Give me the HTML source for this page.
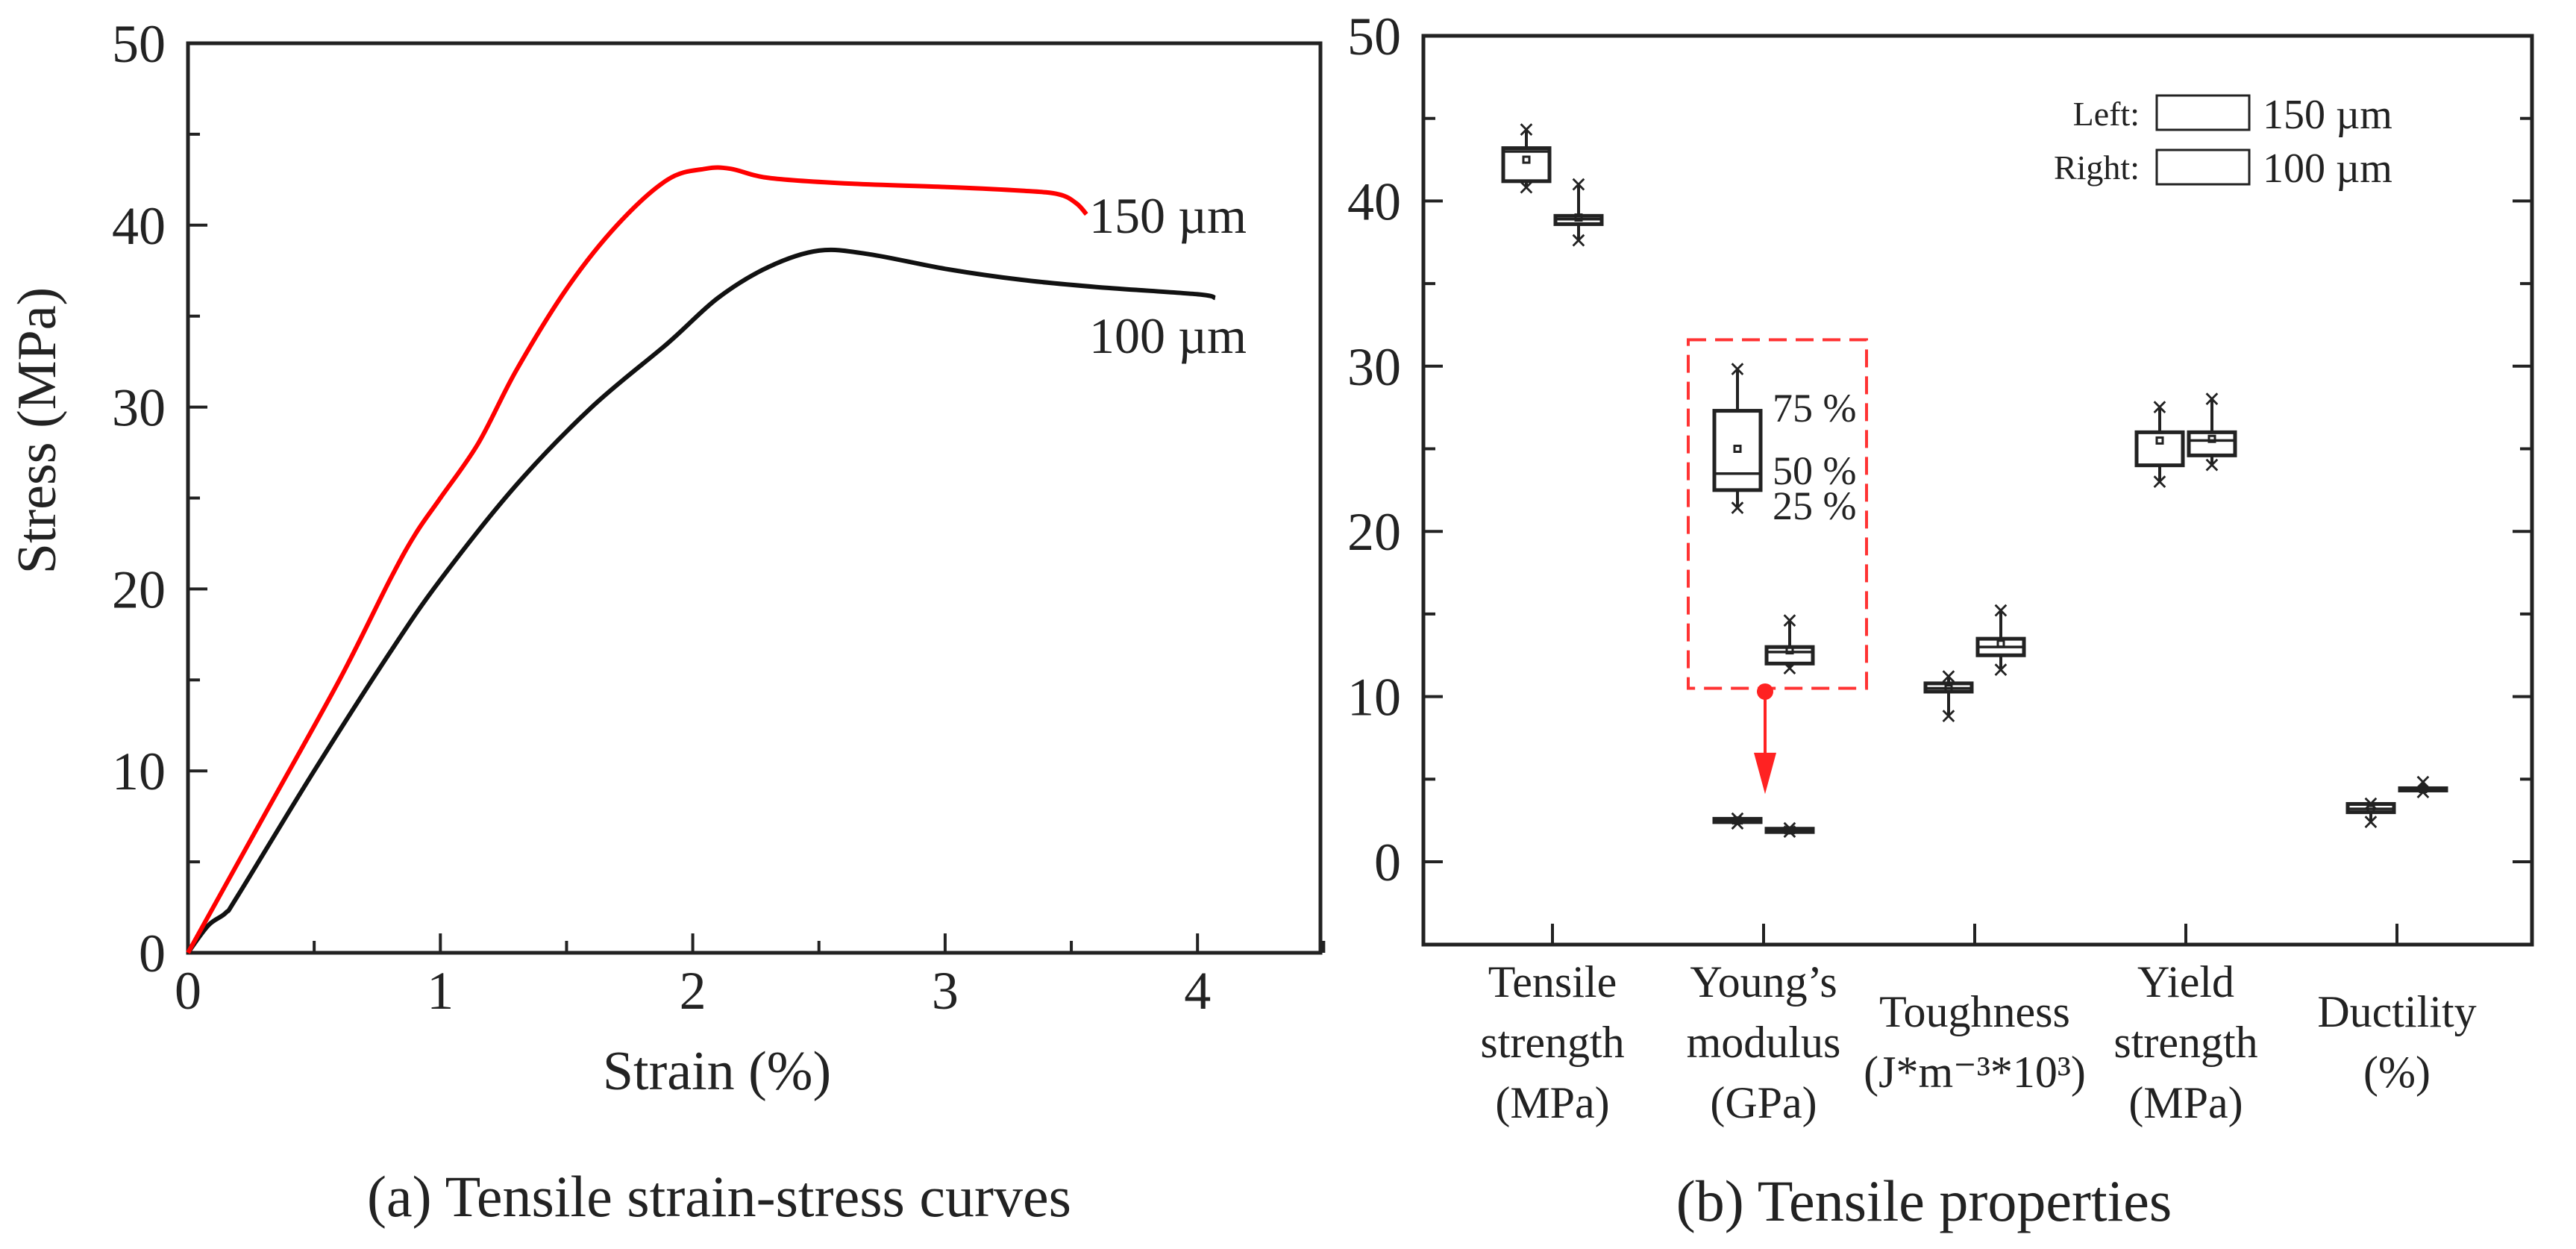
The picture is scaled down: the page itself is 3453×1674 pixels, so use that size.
<!DOCTYPE html>
<html><head><meta charset="utf-8"><style>
html,body{margin:0;padding:0;background:#fff}
svg{display:block}
text{font-family:"Liberation Serif",serif;fill:#222}
</style></head><body>
<svg id="fig" width="3453" height="1674" viewBox="0 0 3453 1674" xmlns="http://www.w3.org/2000/svg">
<g id="pa"></g>
<g id="pb"></g>
</svg>
<script>
// ---- Chart (a) data ----
const redStrain=[0,0.3,0.6,0.8,0.9,1.0,1.15,1.3,1.5,1.7,1.9,2.05,2.15,2.3,2.6,3.0,3.3,3.45,3.52,3.56];
const redStress=[0,7.5,15,20.5,23,25,28,32,36.5,40,42.5,43.1,43.1,42.6,42.3,42.1,41.9,41.7,41.2,40.6];
const blackStrain=[0,0.08,0.15,0.2,0.5,0.8,1.0,1.3,1.6,1.9,2.1,2.3,2.5,2.7,3.0,3.3,3.6,4.0,4.07];
const blackStress=[0,1.5,2.2,3.2,10,16.5,20.5,25.7,30,33.5,36,37.7,38.6,38.4,37.6,37,36.6,36.2,36];
const aXTicks=[0,1,2,3,4];
const aYTicks=[0,10,20,30,40,50];
// ---- Chart (b) data ----
const categories=[["Tensile","strength","(MPa)"],["Young\u2019s","modulus","(GPa)"],["Toughness","(J*m\u207B\u00B3*10\u00B3)"],["Yield","strength","(MPa)"],["Ductility","(%)"]];
const catNames=["tensile-strength","youngs-modulus","toughness","yield-strength","ductility"];
// [q1, median, q3, mean, max, min] per category
const left150=[[41.2,43.0,43.2,42.5,44.3,40.8],[2.4,2.5,2.6,2.5,2.6,2.3],[10.3,10.5,10.8,10.5,11.2,8.8],[24,26,26,25.5,27.5,23],[3.0,3.2,3.5,3.2,3.5,2.4]];
const right100=[[38.6,38.9,39.1,39,41,37.6],[1.8,1.9,2.0,1.9,2.0,1.8],[12.5,13,13.5,13.2,15.2,11.6],[24.6,25.5,26,25.6,28,24],[4.35,4.4,4.45,4.4,4.8,4.2]];
const insetLeft=[22.5,23.5,27.3,25,29.8,21.4];
const insetRight=[12,12.7,13,12.8,14.6,11.7];
const bYTicks=[0,10,20,30,40,50];

const NS="http://www.w3.org/2000/svg";
function mk(parent,tag,attrs,txt){const e=document.createElementNS(NS,tag);for(const k in attrs)e.setAttribute(k,attrs[k]);if(txt!==undefined)e.textContent=txt;parent.appendChild(e);return e;}

// ===== Chart (a) =====
const pa=document.getElementById('pa');
const ax=v=>252+v*338.3, ay=v=>1277-v*24.38;
let e;
e=mk(pa,'rect',{x:252,y:58,width:1770-252,height:1277-58,fill:'none',stroke:'#222','stroke-width':5});

for(let v=0;v<=4.5;v+=0.5){const l=Number.isInteger(v)?26:16;
 e=mk(pa,'line',{x1:ax(v),x2:ax(v),y1:1277,y2:1277-l,stroke:'#222','stroke-width':4});
 }
for(let v=0;v<=50;v+=5){const l=v%10===0?26:16;
 e=mk(pa,'line',{x1:252,x2:252+l,y1:ay(v),y2:ay(v),stroke:'#222','stroke-width':4});
 }
aXTicks.forEach(v=>{e=mk(pa,'text',{x:ax(v),y:1352,'font-size':72,'text-anchor':'middle'},String(v));
 });
aYTicks.forEach(v=>{e=mk(pa,'text',{x:222,y:ay(v)+25,'font-size':72,'text-anchor':'end'},String(v));
 });
e=mk(pa,'text',{x:961,y:1460,'font-size':74,'text-anchor':'middle'},'Strain (%)');

e=mk(pa,'text',{x:0,y:0,'font-size':74,'text-anchor':'middle',transform:'translate(74,577) rotate(-90)'},'Stress (MPa)');

function path(xs,ys){
 const P=xs.map((x,i)=>[ax(x),ay(ys[i])]);
 let d='M'+P[0][0].toFixed(1)+','+P[0][1].toFixed(1);
 for(let i=0;i<P.length-1;i++){
  const p0=P[Math.max(0,i-1)],p1=P[i],p2=P[i+1],p3=P[Math.min(P.length-1,i+2)];
  const c1=[p1[0]+(p2[0]-p0[0])/6,p1[1]+(p2[1]-p0[1])/6];
  const c2=[p2[0]-(p3[0]-p1[0])/6,p2[1]-(p3[1]-p1[1])/6];
  d+=' C'+c1[0].toFixed(1)+','+c1[1].toFixed(1)+' '+c2[0].toFixed(1)+','+c2[1].toFixed(1)+' '+p2[0].toFixed(1)+','+p2[1].toFixed(1);
 }
 return d;}
e=mk(pa,'path',{d:path(blackStrain,blackStress),fill:'none',stroke:'#111','stroke-width':6,'stroke-linejoin':'round'});

e=mk(pa,'path',{d:path(redStrain,redStress),fill:'none',stroke:'#f00','stroke-width':6,'stroke-linejoin':'round'});

e=mk(pa,'text',{x:1460,y:312,'font-size':68},'150 \u00B5m');

e=mk(pa,'text',{x:1460,y:473,'font-size':68},'100 \u00B5m');

e=mk(pa,'text',{x:964,y:1630,'font-size':78,'text-anchor':'middle'},'(a) Tensile strain-stress curves');


// ===== Chart (b) =====
const pb=document.getElementById('pb');
const by=v=>1155-v*22.14;
const groupX=i=>2081+i*283;
e=mk(pb,'rect',{x:1908,y:48,width:3394-1908,height:1266-48,fill:'none',stroke:'#222','stroke-width':5});

for(let v=-5;v<=50;v+=5){const l=v%10===0?26:16;
 e=mk(pb,'line',{x1:1908,x2:1908+l,y1:by(v),y2:by(v),stroke:'#222','stroke-width':4});
 
 e=mk(pb,'line',{x1:3394,x2:3394-l,y1:by(v),y2:by(v),stroke:'#222','stroke-width':4});
 }
bYTicks.forEach(v=>{e=mk(pb,'text',{x:1878,y:by(v)+25,'font-size':72,'text-anchor':'end'},String(v));
 });
categories.forEach((lines,i)=>{
 e=mk(pb,'line',{x1:groupX(i),x2:groupX(i),y1:1266,y2:1238,stroke:'#222','stroke-width':4});
 
 const t=mk(pb,'text',{x:groupX(i),'font-size':60,'text-anchor':'middle'});
 
 const y0=lines.length===3?1336:1376;
 lines.forEach((s,j)=>{mk(t,'tspan',{x:groupX(i),y:y0+j*81},s);});
});
function drawBox(cx,d,name){
 const g=mk(pb,'g',{});
 const w=62,[q1,md,q3,mn,mx,mi]=d;
 mk(g,'line',{x1:cx,x2:cx,y1:by(mx),y2:by(q3),stroke:'#222','stroke-width':4});
 mk(g,'line',{x1:cx,x2:cx,y1:by(q1),y2:by(mi),stroke:'#222','stroke-width':4});
 const h=Math.max(by(q1)-by(q3),3);
 mk(g,'rect',{x:cx-w/2,y:by(q3),width:w,height:h,fill:h<8?'#222':'#fff',stroke:'#222','stroke-width':5});
 mk(g,'line',{x1:cx-w/2,x2:cx+w/2,y1:by(md),y2:by(md),stroke:'#222','stroke-width':3.5});
 mk(g,'rect',{x:cx-4,y:by(mn)-4,width:8,height:8,fill:'none',stroke:'#222','stroke-width':3});
 [mx,mi].forEach(v=>{mk(g,'text',{x:cx,y:by(v)+13,'font-size':40,'font-weight':'bold','text-anchor':'middle','font-family':'DejaVu Sans'},'\u00D7');});
}
categories.forEach((c,i)=>{
 if(i===1){drawBox(groupX(i)-35,insetLeft,'inset-box-150um');drawBox(groupX(i)+35,insetRight,'inset-box-100um');}
 drawBox(groupX(i)-35,left150[i],'box-150um-'+catNames[i]);
 drawBox(groupX(i)+35,right100[i],'box-100um-'+catNames[i]);
});
e=mk(pb,'rect',{x:2263,y:by(31.6),width:239,height:by(10.5)-by(31.6),fill:'none',stroke:'#f33','stroke-width':4,'stroke-dasharray':'24,12'});

e=mk(pb,'circle',{cx:groupX(1)+2,cy:by(10.3),r:11,fill:'#f22'});

e=mk(pb,'line',{x1:groupX(1)+2,x2:groupX(1)+2,y1:by(10.3),y2:by(6.2),stroke:'#f22','stroke-width':4});

e=mk(pb,'path',{d:`M${groupX(1)-13},${by(6.6)} L${groupX(1)+17},${by(6.6)} L${groupX(1)+2},${by(4.1)} Z`,fill:'#f22'});

[['75 %',565],['50 %',649],['25 %',696]].forEach(([s,y])=>{e=mk(pb,'text',{x:2376,y:y,'font-size':54},s);
 });
// legend
e=mk(pb,'text',{x:2868,y:168,'font-size':46,'text-anchor':'end'},'Left:');

e=mk(pb,'rect',{x:2891,y:128,width:124,height:46,fill:'#fff',stroke:'#222','stroke-width':3});

e=mk(pb,'text',{x:3033,y:172,'font-size':56},'150 \u00B5m');

e=mk(pb,'text',{x:2868,y:240,'font-size':46,'text-anchor':'end'},'Right:');

e=mk(pb,'rect',{x:2891,y:201,width:124,height:46,fill:'#fff',stroke:'#222','stroke-width':3});

e=mk(pb,'text',{x:3033,y:244,'font-size':56},'100 \u00B5m');

e=mk(pb,'text',{x:2579,y:1636,'font-size':78,'text-anchor':'middle'},'(b) Tensile properties');

</script>
</body></html>
